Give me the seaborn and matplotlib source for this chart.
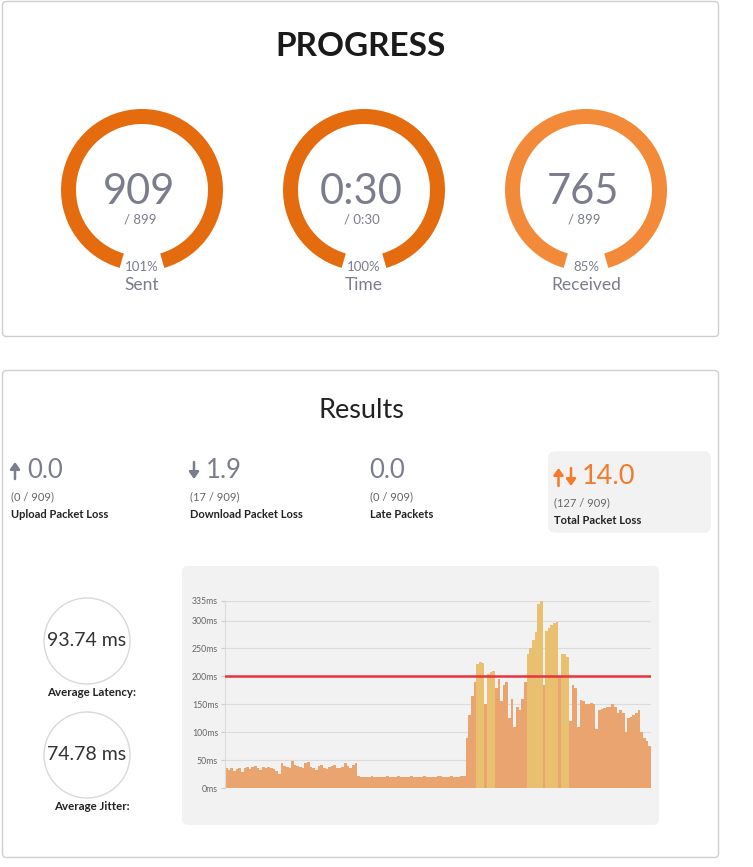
import matplotlib
matplotlib.use("Agg")
import matplotlib.pyplot as plt
import numpy as np
import pandas as pd
import seaborn as sns
from matplotlib.patches import FancyBboxPatch, Wedge, Circle

sns.set_theme(style="white")
plt.rcParams['font.family'] = ['Lato', 'DejaVu Sans']

# ---------------- data ----------------
gauge_values = ["909", "0:30", "765"]
gauge_totals = ["/ 899", "/ 0:30", "/ 899"]
gauge_pcts = ["101%", "100%", "85%"]
gauge_labels = ["Sent", "Time", "Received"]

stat_arrows = ["up", "down", "", "updown"]
stat_values = ["0.0", "1.9", "0.0", "14.0"]
stat_counts = ["(0 / 909)", "(17 / 909)", "(0 / 909)", "(127 / 909)"]
stat_labels = ["Upload Packet Loss", "Download Packet Loss", "Late Packets", "Total Packet Loss"]

avg_values = ["93.74 ms", "74.78 ms"]
avg_labels = ["Average Latency:", "Average Jitter:"]

latency_ms = [
    35, 33, 36, 30, 34, 35, 28, 36, 37, 34, 38, 40, 36, 33, 38, 36, 37, 35, 34, 30,
    25, 45, 40, 38, 36, 48, 42, 40, 38, 35, 44, 46, 38, 36, 33, 40, 42, 36, 34, 38,
    40, 42, 36, 35, 38, 44, 40, 36, 42, 44,
    21, 20, 19, 20, 20, 21, 19, 20, 20, 19, 20, 21, 20, 19, 20, 21, 20, 20, 19, 20,
    21, 20, 20, 19, 20, 21, 20, 20, 19, 20, 21, 22, 20, 19, 20, 21, 20, 19, 20, 21, 22,
    90, 130, 165, 190, 222, 226, 224, 150, 205, 208,
    210, 180, 195, 155, 185, 190, 125, 160, 110, 145,
    140, 160, 190, 240, 250, 265, 280, 330, 335, 185,
    282, 287, 292, 295, 298, 200, 240, 240, 235, 120,
    185, 180, 110, 158, 155, 150, 150, 152, 150, 105,
    140, 142, 143, 145, 146, 150, 145, 135, 140, 135,
    100, 125, 128, 130, 135, 140, 100, 90, 85, 75,
]
latency_group = list(
    "oooooooooooooooooooooooooooooooooooooooooooooooooo"
    "ooooooooooooooooooooooooooooooooooooooooo"
    "ooooyyyoyyy"
    "oooooooooooo"
    "yyyyyyo"
    "yyyyyo"
    "yyyo"
    "oooooooooooooooooooooooooooooo"
)
threshold_ms = 200
y_ticks = [0, 50, 100, 150, 200, 250, 300, 335]

# ---------------- figure ----------------
W, H = 753, 867
fig = plt.figure(figsize=(W / 100, H / 100), dpi=100)
fig.patch.set_facecolor("white")
bg = fig.add_axes([0, 0, 1, 1])
bg.set_xlim(0, W)
bg.set_ylim(H, 0)
bg.axis("off")

GRAY = "#7b7d8e"
DARK = "#222222"

# cards
for (x0, y0, w, h) in [(2.5, 1.5, 716, 335), (2.5, 370.5, 716, 487)]:
    bg.add_patch(FancyBboxPatch((x0, y0), w, h, boxstyle="round,pad=0,rounding_size=4",
                                fc="white", ec="#cfcfcf", lw=1.0))

bg.text(361, 47, "PROGRESS", ha="center", va="center", fontsize=24, fontweight="bold", color="#1a1a1a")

gauge_cx = [142, 364, 586]
gauge_cy = 190
gauge_colors = ["#e46c0f", "#e46c0f", "#f28a3a"]
for i in range(3):
    cx = gauge_cx[i]
    bg.add_patch(Wedge((cx, gauge_cy), 81, 90 + 16, 90 - 16 + 360, width=15,
                       fc=gauge_colors[i], ec="none"))
    bg.text(cx - 3, 192, gauge_values[i], ha="center", va="center", fontsize=30, color=GRAY)
    bg.text(cx - 2, 220, gauge_totals[i], ha="center", va="center", fontsize=9.5, color=GRAY)
    bg.text(cx, 267, gauge_pcts[i], ha="center", va="center", fontsize=9.5, color=GRAY)
    bg.text(cx, 285, gauge_labels[i], ha="center", va="center", fontsize=12.5, color=GRAY)

# Results
bg.text(361, 411, "Results", ha="center", va="center", fontsize=19.5, color=DARK)

bg.add_patch(FancyBboxPatch((548, 451), 163, 82, boxstyle="round,pad=0,rounding_size=8",
                            fc="#f2f2f2", ec="none"))


def arrow(x, y_top, y_bot, up, col):
    a, b = ((x, y_top), (x, y_bot)) if up else ((x, y_bot), (x, y_top))
    bg.annotate("", xy=a, xytext=b,
                arrowprops=dict(arrowstyle="-|>,head_length=0.45,head_width=0.32",
                                color=col, lw=1.8, mutation_scale=9, shrinkA=0, shrinkB=0))


stat_x = [10, 189, 369, 553]
for i in range(4):
    x = stat_x[i]
    if i < 3:
        yv, yc, yl, col, fs = 470.5, 497, 515, GRAY, 18.5
        yt, yb = 462, 479
    else:
        yv, yc, yl, col, fs = 477, 503, 520, "#f57a2a", 19.5
        yt, yb = 468, 486
    vx = x
    kind = stat_arrows[i]
    if kind == "up":
        arrow(x + 5, yt, yb, True, col)
        vx = x + 17
    elif kind == "down":
        arrow(x + 5, yt, yb, False, col)
        vx = x + 17
    elif kind == "updown":
        arrow(x + 5.5, yt, yb, True, col)
        arrow(x + 18, yt, yb, False, col)
        vx = x + 29
    bg.text(vx, yv, stat_values[i], ha="left", va="center", fontsize=fs, color=col)
    bg.text(x + 1, yc, stat_counts[i], ha="left", va="center", fontsize=8, color="#666666")
    bg.text(x + 1, yl, stat_labels[i], ha="left", va="center", fontsize=8,
            fontweight="bold", color=DARK)

# average circles
circ_cy = [641, 755]
for i in range(2):
    bg.add_patch(Circle((87, circ_cy[i]), 43, fc="white", ec="#d9d9d9", lw=1))
    bg.text(87, circ_cy[i], avg_values[i], ha="center", va="center", fontsize=14, color="#333333")
    bg.text(92, circ_cy[i] + 52, avg_labels[i], ha="center", va="center", fontsize=8.3,
            fontweight="bold", color=DARK)

# chart card
bg.add_patch(FancyBboxPatch((182, 566), 477, 259, boxstyle="round,pad=0,rounding_size=6",
                            fc="#f2f2f2", ec="none"))

ax_l, ax_r, ax_t, ax_b = 225, 651, 601, 788
ax = fig.add_axes([ax_l / W, 1 - ax_b / H, (ax_r - ax_l) / W, (ax_b - ax_t) / H])
ax.set_facecolor("#f2f2f2")

df = pd.DataFrame({"idx": np.arange(len(latency_ms)), "ms": latency_ms, "grp": latency_group})
sns.barplot(data=df, x="idx", y="ms", hue="grp", palette={"o": "#e9a470", "y": "#e8c070"},
            dodge=False, width=1.0, linewidth=0, saturation=1, legend=False, ax=ax)
ax.axhline(threshold_ms, color="#e8343f", lw=1.8, zorder=5)

ax.set_ylim(0, 335)
ax.set_xlim(-0.5, len(latency_ms) - 0.5)
ax.set_yticks(y_ticks)
ax.set_yticklabels([f"{v}ms" for v in y_ticks], fontsize=6.3, color="#666666")
ax.set_xticks([])
ax.set_xlabel("")
ax.set_ylabel("")
ax.yaxis.grid(True, color="#dcdcdc", lw=0.8)
ax.set_axisbelow(True)
ax.tick_params(axis="y", length=3, width=0.8, color="#cccccc", pad=2, left=True)
for s in ["top", "right", "bottom"]:
    ax.spines[s].set_visible(False)
ax.spines["left"].set_color("#dcdcdc")
ax.spines["left"].set_linewidth(0.8)

fig.savefig("out.png", dpi=100, facecolor="white")
